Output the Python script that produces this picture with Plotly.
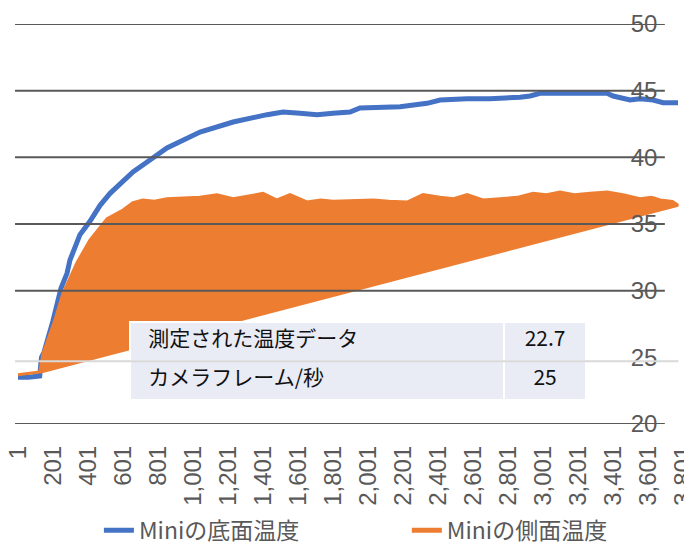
import plotly.graph_objects as go

# ---------------- data ----------------
bottom_idx = [1, 60, 125, 135, 150, 170, 200, 247, 281, 298, 355, 412, 470, 527, 567, 584,
              658, 755, 852, 1041, 1230, 1424, 1515, 1612, 1710, 1801, 1898, 1955, 2184, 2338,
              2413, 2567, 2698, 2870, 2927, 2984, 3172, 3367, 3401, 3498, 3555, 3630, 3687, 3772]
bottom_val = [23.5, 23.5, 23.6, 25.0, 25.4, 26.2, 27.7, 30.2, 31.3, 32.3, 34.2, 35.2, 36.4, 37.3,
              37.8, 38.1, 38.9, 39.8, 40.7, 41.9, 42.65, 43.2, 43.4, 43.3, 43.2, 43.3, 43.4, 43.7,
              43.8, 44.05, 44.3, 44.4, 44.4, 44.5, 44.6, 44.8, 44.8, 44.8, 44.6, 44.3, 44.4, 44.3,
              44.1, 44.1]

side_idx = [1, 60, 125, 144, 184, 212, 258, 338, 412, 470, 510, 567, 601, 658, 715, 780, 852,
            944, 1040, 1138, 1230, 1320, 1401, 1481, 1555, 1652, 1730, 1801, 1900, 2030, 2120,
            2224, 2315, 2412, 2490, 2567, 2658, 2760, 2853, 2944, 3020, 3098, 3180, 3270, 3367,
            3458, 3555, 3620, 3670, 3740, 3772]
side_val = [23.7, 23.8, 23.9, 25.3, 26.8, 27.8, 29.8, 32.1, 33.8, 34.8, 35.4, 35.8, 36.05, 36.6,
            36.8, 36.7, 36.9, 36.95, 37.0, 37.2, 36.9, 37.1, 37.3, 36.8, 37.2, 36.65, 36.8, 36.7,
            36.75, 36.8, 36.7, 36.65, 37.2, 37.0, 36.9, 37.2, 36.8, 36.9, 37.0, 37.3, 37.2, 37.4,
            37.2, 37.3, 37.4, 37.2, 36.9, 37.0, 36.8, 36.7, 36.4]
# the side series wraps back to an early sample
side_wrap_idx = [130]
side_wrap_val = [23.9]

x_tick_vals = [1, 201, 401, 601, 801, 1001, 1201, 1401, 1601, 1801, 2001, 2201, 2401, 2601,
               2801, 3001, 3201, 3401, 3601, 3801]
x_tick_text = ["1", "201", "401", "601", "801", "1,001", "1,201", "1,401", "1,601", "1,801",
               "2,001", "2,201", "2,401", "2,601", "2,801", "3,001", "3,201", "3,401", "3,601",
               "3,801"]
y_ticks = [20, 25, 30, 35, 40, 45, 50]

series_names = ["Miniの底面温度", "Miniの側面温度"]
table_labels = ["測定された温度データ", "カメラフレーム/秒"]
table_values = ["22.7", "25"]

BLUE = "#4472C4"
ORANGE = "#ED7D31"
GRID = "#595959"
PAD = "\u2002"

fig = go.Figure()

fig.add_trace(go.Scatter(x=bottom_idx, y=bottom_val, mode="lines",
                         line=dict(color=BLUE, width=5), showlegend=False, hoverinfo="skip"))
fig.add_trace(go.Scatter(x=side_idx + side_wrap_idx, y=side_val + side_wrap_val, mode="lines",
                         fill="toself", fillcolor=ORANGE,
                         line=dict(color=ORANGE, width=3), showlegend=False, hoverinfo="skip"))

# legend entries
fig.add_trace(go.Scatter(x=[None], y=[None], mode="lines", name=series_names[0],
                         line=dict(color=BLUE, width=5), legend="legend"))
fig.add_trace(go.Scatter(x=[None], y=[None], mode="lines", name=series_names[1],
                         line=dict(color=ORANGE, width=5), legend="legend2"))

# table overlay
fig.add_trace(go.Table(
    domain=dict(x=[0.172, 0.844], y=[0.06, 0.255]),
    columnwidth=[373, 81],
    header=dict(values=[PAD + table_labels[0], table_values[0]],
                fill_color="#E9EBF5", line=dict(color="white", width=2),
                align=["left", "center"], height=39,
                font=dict(family="Noto Sans CJK JP", size=21, color="#111111")),
    cells=dict(values=[[PAD + table_labels[1]], [table_values[1]]],
               fill_color="#E9EBF5", line=dict(color="white", width=2),
               align=["left", "center"], height=39,
               font=dict(family="Noto Sans CJK JP", size=21, color="#111111")),
))

shapes = []
for v in y_ticks:
    if v == 25:
        continue
    shapes.append(dict(type="line", xref="paper", yref="y", x0=0.003, x1=0.960, y0=v, y1=v,
                       line=dict(color=GRID, width=2), layer="above"))
# faint 25 line
shapes.append(dict(type="line", xref="paper", yref="y", x0=0.003, x1=0.980, y0=24.7, y1=24.7,
                   line=dict(color="#D9D9D9", width=2), layer="above"))

legend_font = dict(family="Noto Sans CJK JP", size=23, color=GRID)

# page body has an 8px margin, so the figure is sized/offset to compensate
fig.update_layout(
    width=684, height=536,
    margin=dict(l=5, r=0, t=16, b=120, autoexpand=False),
    paper_bgcolor="white", plot_bgcolor="white",
    shapes=shapes,
    xaxis=dict(range=[-27.6, 3852], tickvals=x_tick_vals, ticktext=x_tick_text,
               tickangle=-90, showgrid=False, zeroline=False, showline=False, ticks="",
               ticklabelstandoff=16, automargin=False, ticklabeloverflow="allow",
               tickfont=dict(family="Liberation Sans Narrow, Liberation Sans", size=24, color=GRID)),
    yaxis=dict(range=[20, 50], tickvals=y_ticks, ticktext=[str(v) for v in y_ticks],
               showgrid=False, zeroline=False, showline=False, ticks="",
               side="left", anchor="free", position=0.949, automargin=False,
               tickfont=dict(family="Liberation Sans", size=24, color=GRID)),
    legend=dict(orientation="h", x=0.1265, xanchor="left", y=-0.212, yanchor="top",
                bgcolor="rgba(0,0,0,0)", font=legend_font),
    legend2=dict(orientation="h", x=0.58, xanchor="left", y=-0.212, yanchor="top",
                 bgcolor="rgba(0,0,0,0)", font=legend_font),
)

fig.write_html("out.html")
